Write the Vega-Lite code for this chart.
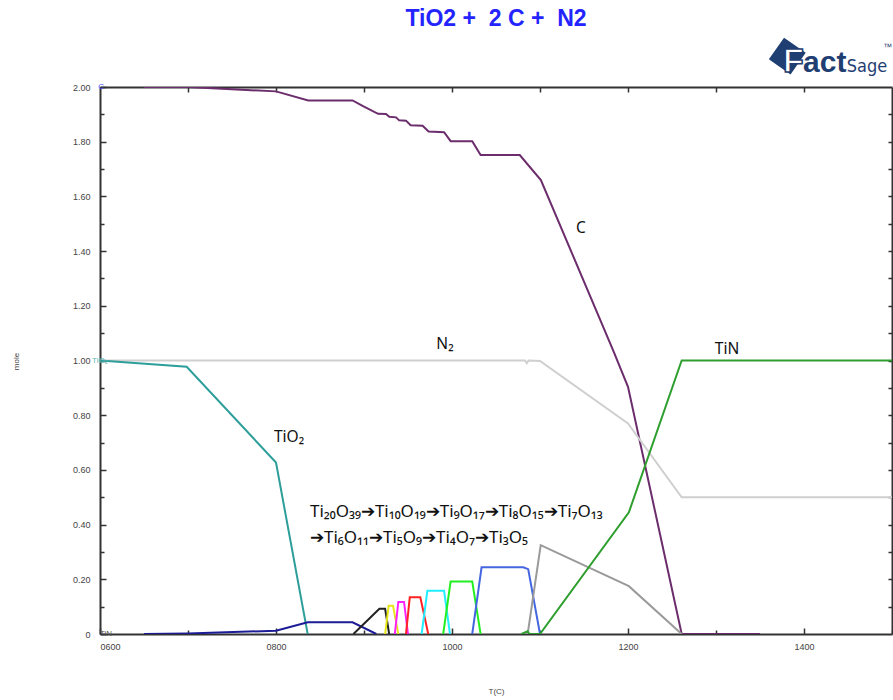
{
  "$schema": "https://vega.github.io/schema/vega-lite/v6.json",
  "width": 792,
  "height": 547,
  "autosize": "none",
  "padding": {"left": 100, "top": 87, "right": 1, "bottom": 66},
  "background": "white",
  "config": {"view": {"stroke": null}},
  "datasets": {
    "curves": [
      {"s": "C", "T": 650, "m": 2.0}, {"s": "C", "T": 700, "m": 2.0}, {"s": "C", "T": 800, "m": 1.984}, {"s": "C", "T": 836.7, "m": 1.951}, {"s": "C", "T": 887, "m": 1.951}, {"s": "C", "T": 898.9, "m": 1.93}, {"s": "C", "T": 916, "m": 1.902}, {"s": "C", "T": 925, "m": 1.901}, {"s": "C", "T": 928.8, "m": 1.891}, {"s": "C", "T": 936.4, "m": 1.889}, {"s": "C", "T": 940, "m": 1.878}, {"s": "C", "T": 947.7, "m": 1.877}, {"s": "C", "T": 953, "m": 1.86}, {"s": "C", "T": 966.6, "m": 1.858}, {"s": "C", "T": 973.4, "m": 1.837}, {"s": "C", "T": 991, "m": 1.835}, {"s": "C", "T": 998.5, "m": 1.802}, {"s": "C", "T": 1023, "m": 1.802}, {"s": "C", "T": 1032.5, "m": 1.751}, {"s": "C", "T": 1077, "m": 1.751}, {"s": "C", "T": 1101, "m": 1.66}, {"s": "C", "T": 1183, "m": 1.038}, {"s": "C", "T": 1200, "m": 0.904}, {"s": "C", "T": 1261, "m": 0.0}, {"s": "C", "T": 1350, "m": 0.0},
      {"s": "N2", "T": 600, "m": 1.0}, {"s": "N2", "T": 1083, "m": 1.0}, {"s": "N2", "T": 1085, "m": 0.99}, {"s": "N2", "T": 1087, "m": 1.0}, {"s": "N2", "T": 1100, "m": 0.998}, {"s": "N2", "T": 1200, "m": 0.77}, {"s": "N2", "T": 1261, "m": 0.5}, {"s": "N2", "T": 1500, "m": 0.5},
      {"s": "TiO2", "T": 600, "m": 1.0}, {"s": "TiO2", "T": 698.5, "m": 0.977}, {"s": "TiO2", "T": 800, "m": 0.627}, {"s": "TiO2", "T": 836, "m": 0.0},
      {"s": "Ti20O39", "T": 650, "m": 0.0}, {"s": "Ti20O39", "T": 700, "m": 0.002}, {"s": "Ti20O39", "T": 800, "m": 0.012}, {"s": "Ti20O39", "T": 836, "m": 0.043}, {"s": "Ti20O39", "T": 887, "m": 0.043}, {"s": "Ti20O39", "T": 914, "m": 0.0},
      {"s": "Ti10O19", "T": 888, "m": 0.0}, {"s": "Ti10O19", "T": 917.5, "m": 0.092}, {"s": "Ti10O19", "T": 924, "m": 0.092}, {"s": "Ti10O19", "T": 928.6, "m": 0.0},
      {"s": "Ti9O17", "T": 924, "m": 0.0}, {"s": "Ti9O17", "T": 928, "m": 0.103}, {"s": "Ti9O17", "T": 933, "m": 0.103}, {"s": "Ti9O17", "T": 939, "m": 0.0},
      {"s": "Ti8O15", "T": 935, "m": 0.0}, {"s": "Ti8O15", "T": 939, "m": 0.117}, {"s": "Ti8O15", "T": 945.5, "m": 0.117}, {"s": "Ti8O15", "T": 950, "m": 0.0},
      {"s": "Ti7O13", "T": 947.7, "m": 0.0}, {"s": "Ti7O13", "T": 952, "m": 0.134}, {"s": "Ti7O13", "T": 964, "m": 0.134}, {"s": "Ti7O13", "T": 973, "m": 0.0},
      {"s": "Ti6O11", "T": 965.5, "m": 0.0}, {"s": "Ti6O11", "T": 972, "m": 0.158}, {"s": "Ti6O11", "T": 991, "m": 0.158}, {"s": "Ti6O11", "T": 997.7, "m": 0.0},
      {"s": "Ti5O9", "T": 990, "m": 0.0}, {"s": "Ti5O9", "T": 998.4, "m": 0.192}, {"s": "Ti5O9", "T": 1023, "m": 0.192}, {"s": "Ti5O9", "T": 1032.5, "m": 0.0},
      {"s": "Ti4O7", "T": 1023, "m": 0.0}, {"s": "Ti4O7", "T": 1033.6, "m": 0.244}, {"s": "Ti4O7", "T": 1081, "m": 0.244}, {"s": "Ti4O7", "T": 1086.6, "m": 0.237}, {"s": "Ti4O7", "T": 1100, "m": 0.0},
      {"s": "Ti3O5", "T": 1086, "m": 0.0}, {"s": "Ti3O5", "T": 1100.8, "m": 0.325}, {"s": "Ti3O5", "T": 1201, "m": 0.175}, {"s": "Ti3O5", "T": 1261, "m": 0.0},
      {"s": "TiN", "T": 1079, "m": 0.0}, {"s": "TiN", "T": 1086, "m": 0.01}, {"s": "TiN", "T": 1088, "m": 0.0}, {"s": "TiN", "T": 1100, "m": 0.0}, {"s": "TiN", "T": 1201, "m": 0.445}, {"s": "TiN", "T": 1261, "m": 1.0}, {"s": "TiN", "T": 1500, "m": 1.0}
    ]
  },
  "resolve": {"axis": {"x": "independent", "y": "independent"}},
  "layer": [
    {
      "data": {"name": "curves"},
      "mark": {"type": "line", "strokeWidth": 2, "clip": true},
      "encoding": {
        "x": {"field": "T", "type": "quantitative", "scale": {"domain": [600, 1500], "nice": false, "zero": false},
          "axis": {"orient": "bottom", "title": "T(C)", "titleFont": "Liberation Sans", "titleFontSize": 8, "titleFontWeight": "normal", "titleColor": "#444", "titleX": 396, "titleY": 53,
            "values": [600, 700, 800, 900, 1000, 1100, 1200, 1300, 1400, 1500],
            "labelExpr": "datum.value % 200 == 0 && datum.value < 1500 ? (datum.value < 1000 ? '0' + datum.value : '' + datum.value) : ''",
            "labelFont": "Liberation Sans", "labelFontSize": 9, "labelColor": "#444", "labelPadding": 14,
            "domainColor": "#333", "domainWidth": 2, "tickColor": "#333", "tickWidth": 1.5,
            "tickSize": {"condition": {"test": "datum.value % 200 == 0", "value": -6}, "value": -4},
            "grid": false}},
        "y": {"field": "m", "type": "quantitative", "scale": {"domain": [0, 2], "nice": false},
          "axis": {"orient": "left", "title": "mole", "titleFont": "Liberation Sans", "titleFontSize": 8, "titleFontWeight": "normal", "titleColor": "#444", "titleX": -80, "titleY": 274,
            "values": [0, 0.1, 0.2, 0.3, 0.4, 0.5, 0.6, 0.7, 0.8, 0.9, 1.0, 1.1, 1.2, 1.3, 1.4, 1.5, 1.6, 1.7, 1.8, 1.9, 2.0],
            "labelExpr": "round(datum.value * 10) % 2 == 0 ? (datum.value == 0 ? '0' : format(datum.value, '.2f')) : ''",
            "labelFont": "Liberation Sans", "labelFontSize": 9, "labelColor": "#444", "labelPadding": 16,
            "domainColor": "#333", "domainWidth": 2, "tickColor": "#333", "tickWidth": 1.5,
            "tickSize": {"condition": {"test": "round(datum.value * 10) % 2 == 0", "value": -6}, "value": -4},
            "grid": false}},
        "color": {"field": "s", "type": "nominal", "legend": null,
          "scale": {"domain": ["C", "N2", "TiO2", "Ti20O39", "Ti10O19", "Ti9O17", "Ti8O15", "Ti7O13", "Ti6O11", "Ti5O9", "Ti4O7", "Ti3O5", "TiN"],
            "range": ["#6b2d6b", "#cfcfcf", "#2e9e9a", "#1c1c96", "#222222", "#e6e61a", "#ff22ff", "#ff2222", "#22eeff", "#22ee22", "#4466e0", "#9a9a9a", "#2e9e2e"]}}
      }
    },
    {
      "data": {"values": [{"k": 1}]},
      "mark": {"type": "rule", "opacity": 0},
      "encoding": {
        "x": {"datum": 600, "type": "quantitative",
          "axis": {"orient": "top", "title": null, "labels": false, "values": [700, 800, 900, 1000, 1100, 1200, 1300, 1400], "domainColor": "#333", "domainWidth": 2, "tickColor": "#333", "tickWidth": 1.5, "tickSize": -5, "grid": false}},
        "y": {"datum": 0, "type": "quantitative",
          "axis": {"orient": "right", "title": null, "labels": false, "values": [0.1, 0.2, 0.3, 0.4, 0.5, 0.6, 0.7, 0.8, 0.9, 1.0, 1.1, 1.2, 1.3, 1.4, 1.5, 1.6, 1.7, 1.8, 1.9], "domainColor": "#333", "domainWidth": 2, "tickColor": "#333", "tickWidth": 1.5, "tickSize": -4, "grid": false}}
      }
    },
    {
      "data": {"values": [
        {"label": "C", "T": 1146.6, "m": 1.484},
        {"label": "N₂", "T": 992, "m": 1.06},
        {"label": "TiN", "T": 1312.5, "m": 1.042},
        {"label": "TiO₂", "T": 814.8, "m": 0.72}
      ]},
      "mark": {"type": "text", "font": "Noto Sans", "fontSize": 15.5, "color": "#111", "align": "center", "baseline": "middle"},
      "encoding": {
        "x": {"field": "T", "type": "quantitative", "axis": null},
        "y": {"field": "m", "type": "quantitative", "axis": null},
        "text": {"field": "label"}
      }
    },
    {
      "data": {"values": [
        {"label": "Ti₂₀O₃₉➔Ti₁₀O₁₉➔Ti₉O₁₇➔Ti₈O₁₅➔Ti₇O₁₃", "T": 838.6, "m": 0.446},
        {"label": "➔Ti₆O₁₁➔Ti₅O₉➔Ti₄O₇➔Ti₃O₅", "T": 838.6, "m": 0.35}
      ]},
      "mark": {"type": "text", "font": "Noto Sans", "fontSize": 17, "color": "#111", "align": "left", "baseline": "middle"},
      "encoding": {
        "x": {"field": "T", "type": "quantitative", "axis": null},
        "y": {"field": "m", "type": "quantitative", "axis": null},
        "text": {"field": "label"}
      }
    },
    {
      "data": {"values": [
        {"label": "C", "T": 598, "m": 2.0, "c": "#4a4aff"},
        {"label": "TiO₂", "T": 591, "m": 1.0, "c": "#5cb8b4"},
        {"label": "TiN", "T": 600, "m": 0.0, "c": "#555555"}
      ]},
      "mark": {"type": "text", "font": "Liberation Sans", "fontSize": 8, "align": "left", "baseline": "middle", "clip": false},
      "encoding": {
        "x": {"field": "T", "type": "quantitative", "axis": null},
        "y": {"field": "m", "type": "quantitative", "axis": null},
        "text": {"field": "label"},
        "color": {"field": "c", "type": "nominal", "scale": null}
      }
    },
    {
      "data": {"values": [{"label": "TiO2 +\u00a0 2 C +\u00a0 N2"}]},
      "mark": {"type": "text", "font": "Liberation Sans", "fontSize": 23, "fontWeight": "bold", "color": "#2424ff", "align": "center", "baseline": "middle", "clip": false},
      "encoding": {
        "x": {"datum": 1050, "type": "quantitative", "axis": null},
        "y": {"datum": 2.249, "type": "quantitative", "axis": null},
        "text": {"field": "label"}
      }
    },
    {
      "data": {"values": [{"k": "logo"}]},
      "mark": {"type": "point", "shape": "square", "angle": 35, "size": 700, "filled": true, "color": "#1f3e72", "opacity": 1, "clip": false},
      "encoding": {
        "x": {"datum": 1381, "type": "quantitative", "axis": null},
        "y": {"datum": 2.113, "type": "quantitative", "axis": null}
      }
    },
    {
      "data": {"values": [{"label": "F"}]},
      "mark": {"type": "text", "font": "Liberation Sans", "fontSize": 34, "fontWeight": "bold", "color": "white", "stroke": "#1f3e72", "strokeWidth": 1.5, "align": "left", "baseline": "alphabetic", "clip": false},
      "encoding": {
        "x": {"datum": 1376, "type": "quantitative", "axis": null},
        "y": {"datum": 2.055, "type": "quantitative", "axis": null},
        "text": {"field": "label"}
      }
    },
    {
      "data": {"values": [{"label": "act"}]},
      "mark": {"type": "text", "font": "Liberation Sans", "fontSize": 30, "fontWeight": "bold", "color": "#1f3e72", "align": "left", "baseline": "alphabetic", "clip": false},
      "encoding": {
        "x": {"datum": 1399, "type": "quantitative", "axis": null},
        "y": {"datum": 2.055, "type": "quantitative", "axis": null},
        "text": {"field": "label"}
      }
    },
    {
      "data": {"values": [{"label": "Sage"}]},
      "mark": {"type": "text", "font": "DejaVu Sans Condensed", "fontSize": 18, "color": "#1f3e72", "align": "left", "baseline": "alphabetic", "clip": false},
      "encoding": {
        "x": {"datum": 1448.5, "type": "quantitative", "axis": null},
        "y": {"datum": 2.055, "type": "quantitative", "axis": null},
        "text": {"field": "label"}
      }
    },
    {
      "data": {"values": [{"label": "™"}]},
      "mark": {"type": "text", "font": "Liberation Sans", "fontSize": 9, "color": "#1f3e72", "align": "left", "baseline": "middle", "clip": false},
      "encoding": {
        "x": {"datum": 1490, "type": "quantitative", "axis": null},
        "y": {"datum": 2.146, "type": "quantitative", "axis": null},
        "text": {"field": "label"}
      }
    }
  ]
}
